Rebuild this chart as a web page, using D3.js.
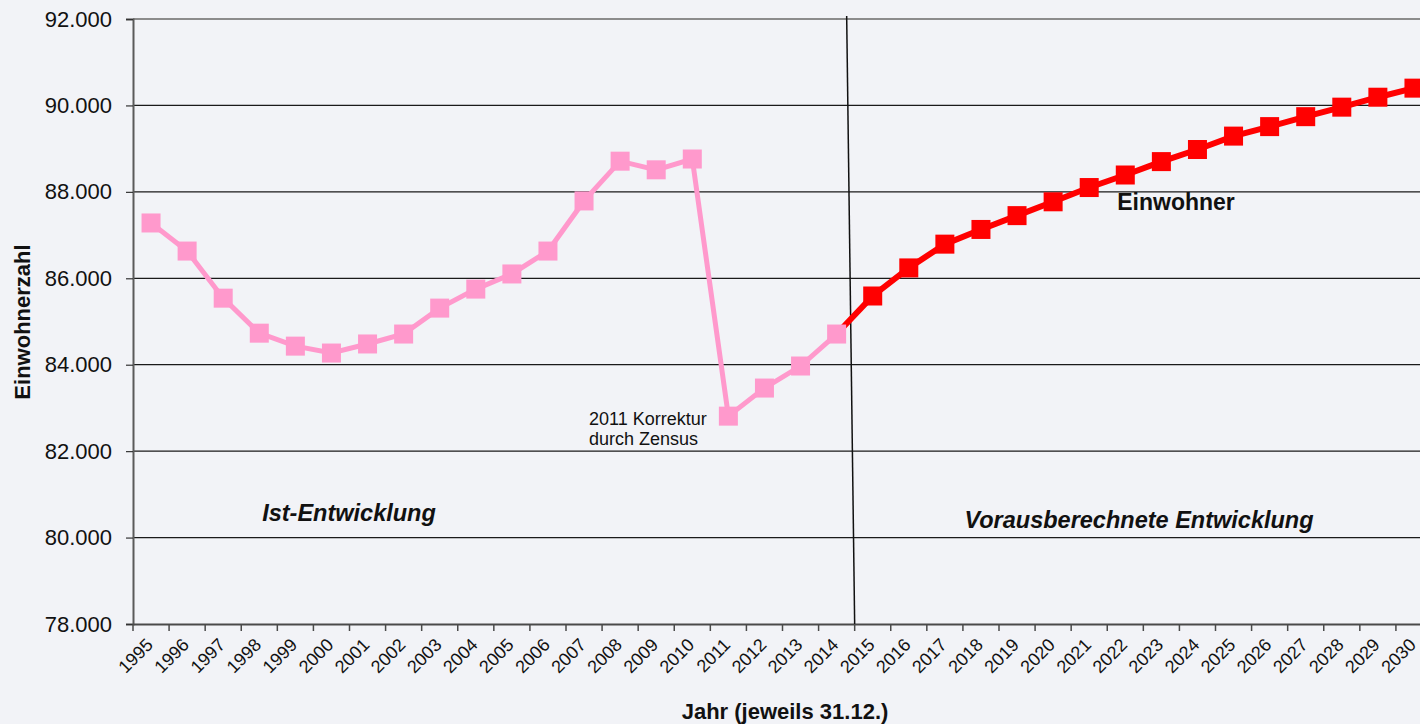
<!DOCTYPE html>
<html><head><meta charset="utf-8">
<script src="https://cdn.jsdelivr.net/npm/d3@7"></script>
<style>
html,body{margin:0;padding:0;background:#F2F3F7;}
svg{display:block;font-family:"Liberation Sans",Arial,sans-serif;}
</style></head>
<body>
<svg id="chart" width="1420" height="724"></svg>
<script>
const years = ["1995","1996","1997","1998","1999","2000","2001","2002","2003","2004","2005","2006","2007","2008","2009","2010","2011","2012","2013","2014","2015","2016","2017","2018","2019","2020","2021","2022","2023","2024","2025","2026","2027","2028","2029","2030"];
const istYears = ["1995","1996","1997","1998","1999","2000","2001","2002","2003","2004","2005","2006","2007","2008","2009","2010","2011","2012","2013","2014"];
const istValues = [87280,86630,85540,84730,84430,84270,84480,84710,85310,85750,86100,86630,87790,88710,88510,88760,82810,83460,83970,84710];
const progYears = ["2014","2015","2016","2017","2018","2019","2020","2021","2022","2023","2024","2025","2026","2027","2028","2029","2030"];
const progValues = [84710,85590,86240,86790,87130,87450,87770,88100,88390,88700,88980,89290,89510,89740,89960,90190,90400];
const yTicks = [78000,80000,82000,84000,86000,88000,90000,92000];
const yDomain = [78000,92000];

(function(){
const svg = d3.select("#chart");
const mLeft = 133, mRight = 1432, mTop = 19, mBottom = 624;
const x = d3.scaleBand().domain(years).range([mLeft, mRight]).padding(0);
const y = d3.scaleLinear().domain(yDomain).range([mBottom, mTop]);
const cx = d => x(d) + x.bandwidth()/2;
const de = d3.formatLocale({decimal:",", thousands:".", grouping:[3], currency:["","€"]});
const fmt = de.format(",.0f");

// gridlines
svg.append("g").selectAll("line").data(yTicks.filter(v => v > yDomain[0] && v < yDomain[1])).join("line")
  .attr("x1", mLeft).attr("x2", mRight).attr("y1", d => y(d)).attr("y2", d => y(d))
  .attr("stroke", "#1a1a1a").attr("stroke-width", 1.2);
// top border
svg.append("line").attr("x1", mLeft).attr("x2", mRight).attr("y1", y(yDomain[1])).attr("y2", y(yDomain[1]))
  .attr("stroke", "#8c8c8c").attr("stroke-width", 2);

// y axis
const yAxis = svg.append("g").attr("transform", `translate(${mLeft},0)`)
  .call(d3.axisLeft(y).tickValues(yTicks).tickFormat(fmt).tickSize(7).tickPadding(14));
yAxis.select(".domain").attr("stroke", "#5a5a5a").attr("stroke-width", 2);
yAxis.selectAll(".tick line").attr("stroke", "#333").attr("stroke-width", 1.2);
yAxis.selectAll(".tick text").attr("font-size", 22).attr("fill", "#111").attr("font-family", "Liberation Sans, Arial");

// x axis
const xAxis = svg.append("g").attr("transform", `translate(0,${mBottom})`)
  .call(d3.axisBottom(x).tickSize(0).tickFormat(d => d));
xAxis.select(".domain").attr("stroke", "#4a4a4a").attr("stroke-width", 2);
xAxis.selectAll(".tick text")
  .attr("font-size", 18).attr("fill", "#111").attr("font-family", "Liberation Sans, Arial")
  .attr("text-anchor", "end").attr("dy", 0).attr("y", 0)
  .attr("transform", "translate(3,22) rotate(-45)");
// boundary ticks
svg.append("g").selectAll("line").data(years.map(d => x(d)).concat([x(years[years.length-1]) + x.bandwidth()])).join("line")
  .attr("x1", d => d).attr("x2", d => d).attr("y1", mBottom).attr("y2", mBottom + 7)
  .attr("stroke", "#4a4a4a").attr("stroke-width", 1.5);

// separator line between Ist and Prognose
const sepX = x("2015");
svg.append("line").attr("x1", sepX - 8).attr("y1", mTop - 3).attr("x2", sepX).attr("y2", mBottom)
  .attr("stroke", "#111").attr("stroke-width", 1.5);

const line = d3.line().x(d => cx(d[0])).y(d => y(d[1]));
const istData = istYears.map((d,i) => [d, istValues[i]]);
const progData = progYears.map((d,i) => [d, progValues[i]]);
const ms = 19;

// red line
svg.append("path").datum(progData).attr("d", line).attr("fill", "none").attr("stroke", "#FF0000").attr("stroke-width", 6);
// pink line + markers
svg.append("path").datum(istData).attr("d", line).attr("fill", "none").attr("stroke", "#FF99CC").attr("stroke-width", 5);
svg.append("g").selectAll("rect").data(istData).join("rect")
  .attr("x", d => cx(d[0]) - ms/2).attr("y", d => y(d[1]) - ms/2).attr("width", ms).attr("height", ms)
  .attr("fill", "#FF99CC");
svg.append("g").selectAll("rect").data(progData.slice(1)).join("rect")
  .attr("x", d => cx(d[0]) - ms/2).attr("y", d => y(d[1]) - ms/2).attr("width", ms).attr("height", ms)
  .attr("fill", "#FF0000");

// labels
svg.append("text").attr("x", 785).attr("y", 719).attr("text-anchor", "middle")
  .attr("font-size", 22).attr("font-weight", "bold").attr("fill", "#111").text("Jahr (jeweils 31.12.)");
svg.append("text").attr("transform", "translate(30,322) rotate(-90)").attr("text-anchor", "middle")
  .attr("font-size", 22).attr("font-weight", "bold").attr("fill", "#111").text("Einwohnerzahl");
svg.append("text").attr("x", 1176).attr("y", 210).attr("text-anchor", "middle")
  .attr("font-size", 23).attr("font-weight", "bold").attr("fill", "#111").text("Einwohner");
svg.append("text").attr("x", 349).attr("y", 521).attr("text-anchor", "middle")
  .attr("font-size", 23.5).attr("font-weight", "bold").attr("font-style", "italic").attr("fill", "#111").text("Ist-Entwicklung");
svg.append("text").attr("x", 1139).attr("y", 528).attr("text-anchor", "middle")
  .attr("font-size", 23.5).attr("font-weight", "bold").attr("font-style", "italic").attr("fill", "#111").text("Vorausberechnete Entwicklung");
const note = svg.append("text").attr("x", 589).attr("y", 425).attr("font-size", 18).attr("fill", "#111");
note.append("tspan").attr("x", 589).text("2011 Korrektur");
note.append("tspan").attr("x", 589).attr("dy", 20).text("durch Zensus");
})();
</script>
</body></html>
